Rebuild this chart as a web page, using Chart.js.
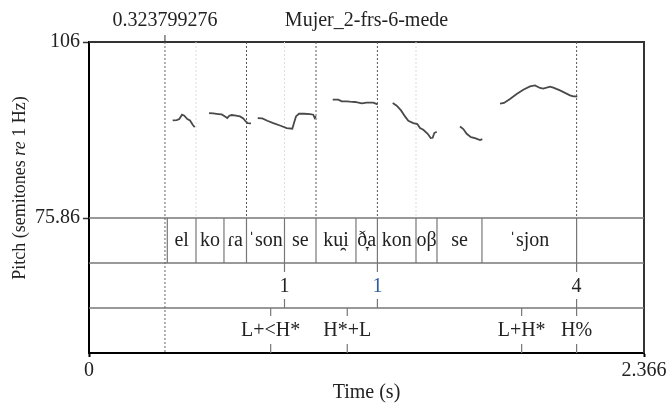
<!DOCTYPE html>
<html>
<head>
<meta charset="utf-8">
<script src="https://cdn.jsdelivr.net/npm/chart.js@4"></script>
<style>
  html, body { margin: 0; padding: 0; background: #fff; }
  canvas { display: block; }
</style>
</head>
<body>
<canvas id="pitchChart" width="670" height="403"></canvas>
<script>
const pitch = document.getElementById('pitchChart');

const fileName = 'Mujer_2-frs-6-mede';
const markerTime = 0.323799276;
const xTicks = [0, 2.366];
const yTicks = [75.86, 106];

// f0 track in semitones re 1 Hz, null marks unvoiced gaps
const contourTimes = [
    0.3568, 0.3739, 0.3850, 0.3965, 0.4063, 0.4191, 0.4306, 0.4421, 0.4506, 0.48,
    0.5116, 0.5299, 0.5512, 0.5657, 0.5798, 0.5896, 0.5981, 0.6083, 0.6267, 0.6437, 0.6578, 0.6680, 0.6765, 0.6906, 0.705,
    0.7192, 0.7388, 0.7601, 0.7857, 0.8142, 0.8428, 0.8667, 0.8739, 0.8824, 0.8952, 0.9165, 0.9421, 0.9562, 0.9622, 0.9677, 1.0,
    1.0389, 1.0628, 1.0773, 1.0986, 1.1127, 1.1340, 1.1626, 1.1839, 1.2120, 1.2308, 1.26,
    1.2947, 1.3118, 1.3301, 1.3471, 1.3612, 1.3825, 1.3996, 1.4111, 1.4252, 1.4439, 1.4567, 1.4652, 1.4720, 1.4823, 1.53,
    1.5816, 1.5957, 1.6101, 1.6285, 1.6455, 1.6669, 1.6767, 1.71,
    1.7521, 1.7692, 1.7947, 1.8233, 1.8514, 1.8800, 1.9013, 1.9226, 1.9367, 1.9653, 1.9793, 2.0079, 2.0505, 2.0646, 2.0817
];
const contourSemitones = [
    92.57, 92.64, 92.81, 93.55, 93.38, 92.81, 92.57, 91.83, 91.44, null,
    93.84, 93.77, 93.67, 93.60, 93.26, 92.98, 93.38, 93.50, 93.38, 93.26, 92.91, 92.40, 92.12, 92.06, null,
    92.98, 92.91, 92.52, 92.12, 91.71, 91.27, 91.15, 92.12, 93.26, 93.72, 93.72, 93.67, 93.55, 92.98, 93.26, null,
    96.13, 96.13, 95.83, 95.83, 95.78, 95.73, 95.49, 95.61, 95.61, 95.32, null,
    95.56, 95.10, 94.29, 93.26, 92.52, 92.12, 91.95, 91.27, 90.97, 90.29, 89.55, 89.60, 90.41, 90.63, null,
    91.54, 91.09, 90.29, 89.72, 89.55, 89.20, 89.38, null,
    95.44, 95.56, 96.25, 97.10, 97.84, 98.41, 98.58, 98.13, 98.01, 98.36, 98.19, 97.72, 96.86, 96.69, 96.69
];

// syllable tier (interval boundaries + labels)
const sylBounds = [0.3338, 0.4561, 0.5754, 0.6714, 0.8334, 0.9677, 1.1381, 1.2295, 1.3940, 1.4835, 1.6752, 2.0787];
const sylLabels = ['el', 'ko', 'ɾa', 'ˈson', 'se', 'ku̯i', 'ð̞a', 'kon', 'oβ', 'se', 'ˈsjon'];
// break index tier
const breakTimes = [0.8334, 1.2295, 2.0787];
const breakLabels = ['1', '1', '4'];
// tone tier
const toneTimes = [0.7745, 1.1010, 1.8444, 2.0787];
const toneLabels = ['L+<H*', 'H*+L', 'L+H*', 'H%'];
// dotted guides through the pitch panel
const wordGuides = [0.6714, 0.9677, 1.2295, 2.0787];
const sylGuides = [0.4561, 0.8334, 1.3940];

const serif = '"Liberation Serif", "Times New Roman", serif';
const ink = '#222';
const tierLine = '#777';
const blueBreak = 1;

let contourData = contourTimes.map((t, i) => ({ x: t, y: contourSemitones[i] }));

let vline = (ctx, px, top, bottom) => {
    ctx.beginPath();
    ctx.moveTo(px, top);
    ctx.lineTo(px, bottom);
    ctx.stroke();
};

const tierPlugin = {
    id: 'tiers',
    beforeDatasetsDraw(chart) {
        const { ctx, chartArea: a, scales: { x, y } } = chart;
        const pitchBottom = y.getPixelForValue(yTicks[0]);
        const tierH = (a.bottom - pitchBottom) / 3;
        ctx.save();

        // box top and right
        ctx.strokeStyle = '#333';
        ctx.lineWidth = 2;
        ctx.beginPath();
        ctx.moveTo(a.left, a.top);
        ctx.lineTo(a.right, a.top);
        ctx.lineTo(a.right, a.bottom);
        ctx.stroke();

        // tier separators
        ctx.strokeStyle = tierLine;
        ctx.lineWidth = 1.5;
        for (let k = 0; k < 3; k++) {
            let py = pitchBottom + k * tierH;
            ctx.beginPath();
            ctx.moveTo(a.left, py);
            ctx.lineTo(a.right, py);
            ctx.stroke();
        }

        // dotted guides
        ctx.lineWidth = 1;
        ctx.setLineDash([2, 2]);
        ctx.strokeStyle = '#ddd';
        sylGuides.forEach(t => vline(ctx, x.getPixelForValue(t), a.top, pitchBottom));
        ctx.strokeStyle = '#555';
        wordGuides.forEach(t => vline(ctx, x.getPixelForValue(t), a.top, pitchBottom));
        ctx.strokeStyle = '#666';
        let mx = x.getPixelForValue(markerTime);
        vline(ctx, mx, a.top, a.bottom);
        ctx.setLineDash([]);
        ctx.strokeStyle = '#333';
        vline(ctx, mx, a.top - 7, a.top);

        // syllable tier
        let t1 = pitchBottom, t2 = pitchBottom + tierH, t3 = pitchBottom + 2 * tierH;
        ctx.strokeStyle = tierLine;
        ctx.lineWidth = 1.2;
        sylBounds.forEach(t => vline(ctx, x.getPixelForValue(t), t1, t2));

        // point tiers: short ticks at top and bottom of the band
        ctx.lineWidth = 1.2;
        breakTimes.forEach(t => {
            let px = x.getPixelForValue(t);
            vline(ctx, px, t2, t2 + 9);
            vline(ctx, px, t3 - 9, t3);
        });
        toneTimes.forEach(t => {
            let px = x.getPixelForValue(t);
            vline(ctx, px, t3, t3 + 8);
            vline(ctx, px, a.bottom - 9, a.bottom);
        });

        // labels
        ctx.font = '20px ' + serif;
        ctx.fillStyle = ink;
        ctx.textAlign = 'center';
        ctx.textBaseline = 'middle';
        sylLabels.forEach((s, i) => {
            let cx = (x.getPixelForValue(sylBounds[i]) + x.getPixelForValue(sylBounds[i + 1])) / 2;
            ctx.fillText(s, cx, t1 + tierH / 2);
        });
        breakLabels.forEach((s, i) => {
            ctx.fillStyle = i === blueBreak ? '#2b5c9e' : ink;
            ctx.fillText(s, x.getPixelForValue(breakTimes[i]), t2 + tierH / 2 + 1);
        });
        ctx.fillStyle = ink;
        toneLabels.forEach((s, i) => {
            ctx.fillText(s, x.getPixelForValue(toneTimes[i]), t3 + tierH / 2);
        });

        // header: marker time and file name
        ctx.fillText(String(markerTime), mx, 21);
        ctx.fillText(fileName, (a.left + a.right) / 2, 21);

        // y title with italic "re"
        const parts = [['Pitch (semitones ', ''], ['re', 'italic '], [' 1 Hz)', '']];
        ctx.translate(20, 188);
        ctx.rotate(-Math.PI / 2);
        ctx.textAlign = 'left';
        let total = 0;
        parts.forEach(p => { ctx.font = p[1] + '18px ' + serif; total += ctx.measureText(p[0]).width; });
        let cx = -total / 2;
        parts.forEach(p => {
            ctx.font = p[1] + '18px ' + serif;
            ctx.fillText(p[0], cx, 0);
            cx += ctx.measureText(p[0]).width;
        });
        ctx.restore();
    }
};

let pitchChart = new Chart(pitch, {
    type: 'line',
    data: {
        datasets: [{
            label: 'Pitch',
            data: contourData,
            borderColor: '#4a4a4a',
            borderWidth: 1.8,
            pointRadius: 0,
            spanGaps: false,
            tension: 0
        }]
    },
    options: {
        responsive: false,
        devicePixelRatio: 1,
        animation: false,
        layout: { padding: { top: 42, right: 26, left: 0, bottom: 0 } },
        plugins: {
            legend: { display: false },
            title: { display: false },
            tooltip: { enabled: false }
        },
        scales: {
            x: {
                type: 'linear',
                min: xTicks[0],
                max: xTicks[1],
                afterBuildTicks: s => { s.ticks = xTicks.map(v => ({ value: v })); },
                afterFit: s => { s.height = 50; },
                ticks: {
                    autoSkip: false,
                    maxRotation: 0,
                    padding: 2,
                    color: ink,
                    font: { family: serif, size: 20 },
                    callback: v => String(v)
                },
                grid: { drawOnChartArea: false, tickLength: 4, tickColor: '#000', tickWidth: 2 },
                border: { color: '#000', width: 2 },
                title: {
                    display: true,
                    text: 'Time (s)',
                    color: ink,
                    font: { family: serif, size: 20, lineHeight: 1 },
                    padding: { top: 0, bottom: 0 }
                }
            },
            y: {
                min: 52.76, // pitch panel plus three tiers below 75.86
                max: yTicks[1],
                afterBuildTicks: s => { s.ticks = yTicks.map(v => ({ value: v })); },
                afterFit: s => { s.width = 89; },
                ticks: {
                    autoSkip: false,
                    padding: 3,
                    color: ink,
                    font: { family: serif, size: 20 },
                    callback: v => String(v)
                },
                grid: { drawOnChartArea: false, tickLength: 6, tickColor: '#333', tickWidth: 1.5 },
                border: { color: '#000', width: 2 }
            }
        }
    },
    plugins: [tierPlugin]
});
</script>
</body>
</html>
